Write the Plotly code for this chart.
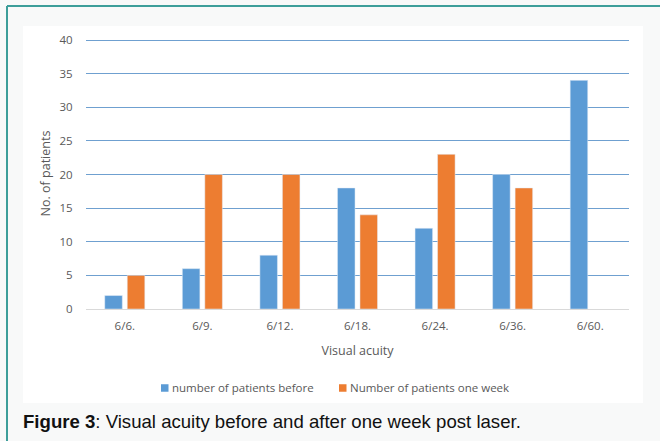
import plotly.graph_objects as go

categories = ["6/6.", "6/9.", "6/12.", "6/18.", "6/24.", "6/36.", "6/60."]
before = [2, 6, 8, 18, 12, 20, 34]
after_one_week = [5, 20, 20, 14, 23, 18, None]
y_ticks = [0, 5, 10, 15, 20, 25, 30, 35, 40]
series_names = ["number of patients before", "Number of patients one week"]
series_colors = ["#5b9bd5", "#ed7d31"]

W, H = 660, 441
Y_TOP = 40.3
L, R, B = 86, 629, 309
T = B - (309 - 40) * Y_TOP / 40


def px(x):
    return (x - L) / (R - L)


def py(y):
    return (B - y) / (B - T)


FONT = "Open Sans, Noto Sans, sans-serif"

fig = go.Figure()
fig.add_trace(go.Bar(x=categories, y=before, name=series_names[0],
                     marker_color=series_colors[0], showlegend=False))
fig.add_trace(go.Bar(x=categories, y=after_one_week, name=series_names[1],
                     marker_color=series_colors[1], showlegend=False))

tick_font = dict(family=FONT, size=11.5, color="#595959")

shapes = [
    dict(type="rect", xref="paper", yref="paper", x0=px(23), x1=px(643), y0=py(403), y1=py(26),
         fillcolor="white", line=dict(width=0), layer="below"),
    dict(type="line", xref="paper", yref="paper", x0=px(7), x1=px(7), y0=py(6), y1=py(441),
         line=dict(color="#3d9e9a", width=2)),
    dict(type="line", xref="paper", yref="paper", x0=px(7), x1=px(660), y0=py(6), y1=py(6),
         line=dict(color="#3d9e9a", width=2)),
]
annotations = [
    dict(xref="paper", yref="paper", x=px(21), y=py(422), xanchor="left", yanchor="middle",
         showarrow=False,
         text="<b>Figure 3</b>: Visual acuity before and after one week post laser.",
         font=dict(family="Liberation Sans, Arial, sans-serif", size=18.6, color="#111111")),
]

# manual legend (small squares like the original)
legend_x = [161, 339]
legend_y = 388
for name, color, lx in zip(series_names, series_colors, legend_x):
    shapes.append(dict(type="rect", xref="paper", yref="paper",
                       x0=px(lx), x1=px(lx + 7.5), y0=py(legend_y + 3.75), y1=py(legend_y - 3.75),
                       fillcolor=color, line=dict(width=0)))
    annotations.append(dict(xref="paper", yref="paper", x=px(lx + 9), y=py(legend_y),
                            xanchor="left", yanchor="middle", showarrow=False, text=name,
                            font=dict(family=FONT, size=11.5, color="#595959")))

fig.update_layout(
    width=W, height=H,
    margin=dict(l=L, r=W - R, t=T, b=H - B, pad=0),
    paper_bgcolor="#f8f9f9",
    plot_bgcolor="rgba(0,0,0,0)",
    barmode="group",
    bargap=0.42,
    bargroupgap=0.22,
    showlegend=False,
    xaxis=dict(showgrid=False, showline=False,
               tickfont=tick_font, ticks="outside", ticklen=6, tickcolor="rgba(0,0,0,0)",
               title=dict(text="Visual acuity", standoff=14,
                          font=dict(family=FONT, size=12.5, color="#595959"))),
    yaxis=dict(range=[0, Y_TOP], tickvals=y_ticks, showgrid=True, gridcolor="#6fa0d0", gridwidth=1.3,
               zeroline=True, zerolinecolor="#d9d9d9", zerolinewidth=1.3, showline=False,
               tickfont=tick_font, ticks="outside", ticklen=10, tickcolor="rgba(0,0,0,0)",
               title=dict(text="No. of patients", standoff=6,
                          font=dict(family=FONT, size=12.5, color="#595959"))),
    shapes=shapes,
    annotations=annotations,
)

fig.write_html("out.html", config={"displayModeBar": False},
               post_script="document.body.style.margin='0';document.body.style.overflow='hidden';")
